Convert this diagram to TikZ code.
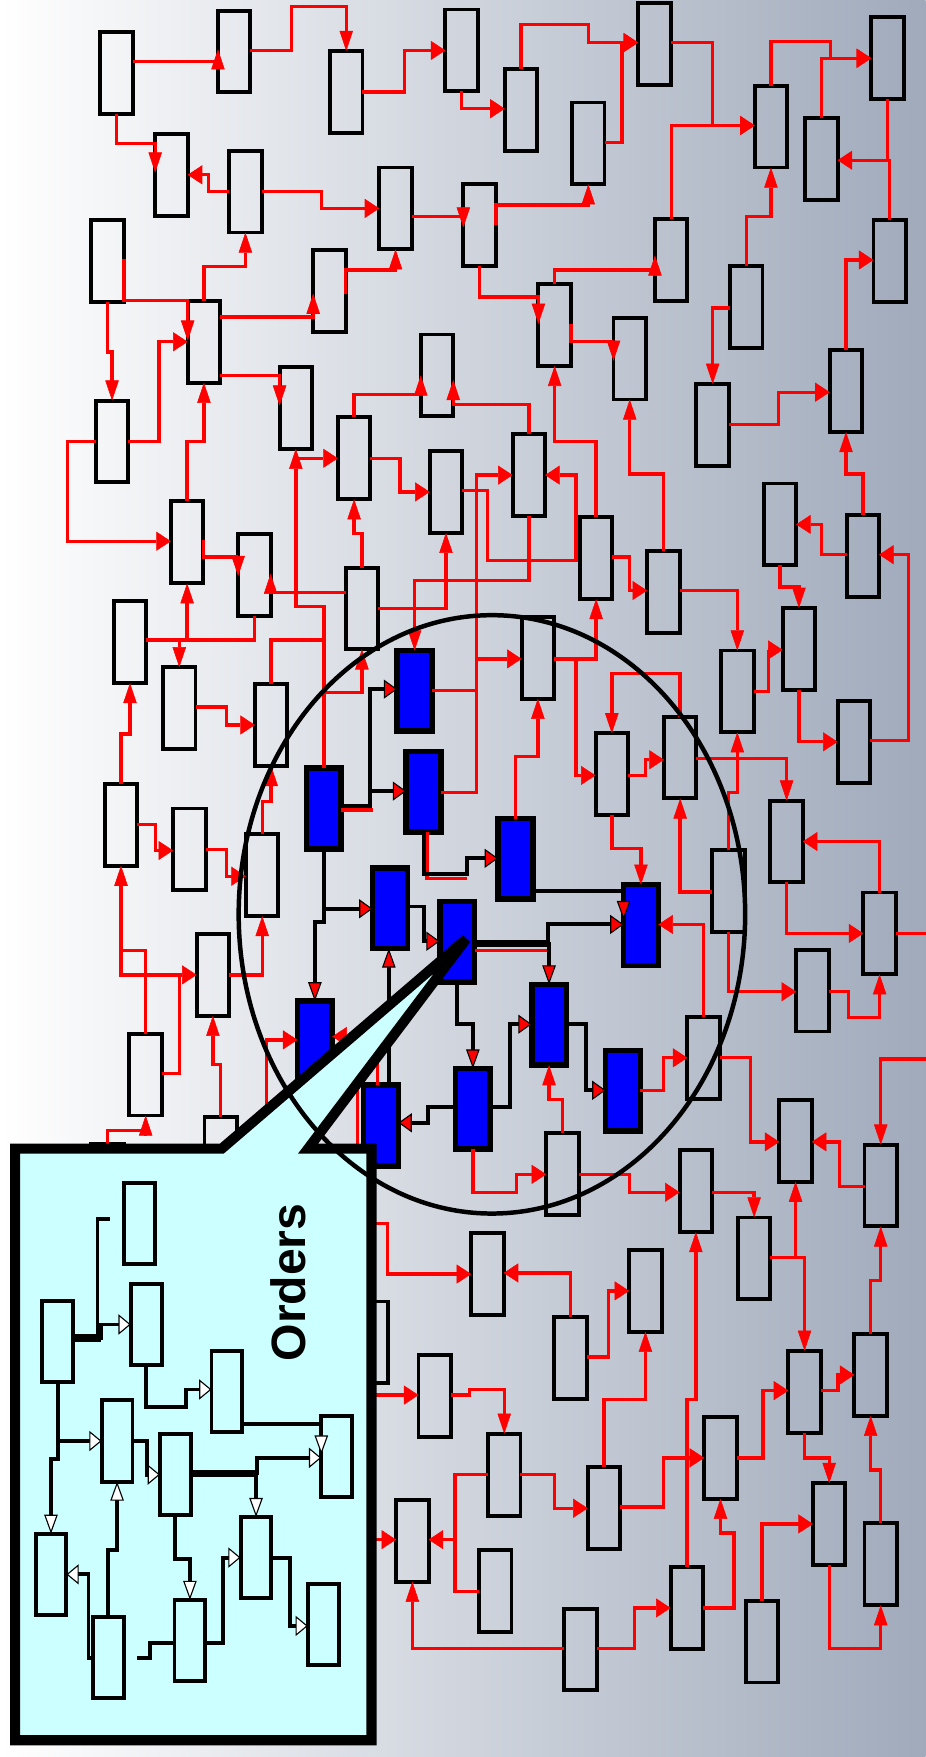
\documentclass[tikz,border=0pt]{standalone}
\usepackage{fontspec}
\newfontfamily\lsans{Liberation Sans}
\usetikzlibrary{arrows.meta}
\definecolor{bgR}{RGB}{160,170,187}
\definecolor{bgM}{RGB}{217,220,228}
\definecolor{myblue}{RGB}{0,0,255}
\definecolor{mycyan}{RGB}{204,255,255}
\tikzset{
 gnode/.style={draw=black,line width=3.5pt,minimum width=29pt,minimum height=73pt,inner sep=0pt,outer sep=0pt},
 bnode/.style={draw=black,fill=myblue,line width=5pt,minimum width=31pt,minimum height=72pt,inner sep=0pt,outer sep=0pt},
 cnode/.style={draw=black,fill=mycyan,line width=3.5pt,minimum width=27.5pt,minimum height=72.5pt,inner sep=0pt,outer sep=0pt},
 redl/.style={draw=red,line width=3pt},
 redh/.style={redl,-{Triangle[length=13pt,width=17pt,line width=0.5pt]}},
 redv/.style={redl,-{Triangle[length=18pt,width=12pt,line width=0.5pt]}},
 blkl/.style={draw=black,line width=3.5pt},
 blkh/.style={blkl,-{Triangle[length=12pt,width=17pt,fill=red,line width=1pt]}},
 blkv/.style={blkl,-{Triangle[length=17pt,width=12pt,fill=red,line width=1pt]}},
 cline/.style={draw=black,line width=3.5pt},
 calh/.style={cline,-{Triangle[length=11pt,width=18pt,fill=white,line width=1pt]}},
 calv/.style={cline,-{Triangle[length=17pt,width=12pt,fill=white,line width=1pt]}},
}
\begin{document}
\begin{tikzpicture}[x=1pt,y=-1pt]
\useasboundingbox (0,0) rectangle (826,1568);
\shade[left color=white,middle color=bgM,right color=bgR] (0,0) rectangle (826,1568);
% gray nodes
\node[gnode] (n1) at (104,65) {};
\node[gnode] (n2) at (209,46) {};
\node[gnode] (n3) at (309,82) {};
\node[gnode] (n4) at (412,45) {};
\node[gnode] (n5) at (465,98) {};
\node[gnode] (n6) at (584,39) {};
\node[gnode] (n7) at (525,128) {};
\node[gnode] (n8) at (688,113) {};
\node[gnode] (n9) at (792,52) {};
\node[gnode] (n10) at (733,142) {};
\node[gnode] (n11) at (153,156) {};
\node[gnode] (n12) at (219,171) {};
\node[gnode] (n13) at (353,186) {};
\node[gnode] (n14) at (428,201) {};
\node[gnode] (n15) at (96,233) {};
\node[gnode] (n16) at (294,260) {};
\node[gnode] (n17) at (599,232) {};
\node[gnode] (n18) at (794,233) {};
\node[gnode] (n19) at (666,274) {};
\node[gnode] (n20) at (182,305) {};
\node[gnode] (n21) at (495,290) {};
\node[gnode] (n22) at (562,320) {};
\node[gnode] (n23) at (390,335) {};
\node[gnode] (n24) at (264,364) {};
\node[gnode] (n25) at (100,394) {};
\node[gnode] (n26) at (636,379) {};
\node[gnode] (n27) at (755,349) {};
\node[gnode] (n28) at (316,409) {};
\node[gnode] (n29) at (398,439) {};
\node[gnode] (n30) at (472,424) {};
\node[gnode] (n31) at (696,468) {};
\node[gnode] (n32) at (167,484) {};
\node[gnode] (n33) at (532,498) {};
\node[gnode] (n34) at (770,496) {};
\node[gnode] (n35) at (227,513) {};
\node[gnode] (n36) at (592,528) {};
\node[gnode] (n37) at (323,543) {};
\node[gnode] (n38) at (116,573) {};
\node[gnode] (n39) at (480,587) {};
\node[gnode] (n40) at (713,579) {};
\node[gnode] (n41) at (658,617) {};
\node[gnode] (n42) at (160,632) {};
\node[gnode] (n43) at (242,647) {};
\node[gnode] (n44) at (607,676) {};
\node[gnode] (n45) at (546,691) {};
\node[gnode] (n46) at (762,662) {};
\node[gnode] (n47) at (108,736) {};
\node[gnode] (n48) at (169,758) {};
\node[gnode] (n49) at (234,781) {};
\node[gnode] (n50) at (702,751) {};
\node[gnode] (n51) at (650,795) {};
\node[gnode] (n52) at (785,833) {};
\node[gnode] (n53) at (190,870) {};
\node[gnode] (n54) at (725,884) {};
\node[gnode] (n55) at (130,959) {};
\node[gnode] (n56) at (628,944) {};
\node[gnode] (n57) at (197,1033) {};
\node[gnode] (n58) at (710,1018) {};
\node[gnode] (n59) at (502,1048) {};
\node[gnode] (n60) at (621,1063) {};
\node[gnode] (n61) at (786,1058) {};
\node[gnode] (n62) at (673,1123) {};
\node[gnode] (n63) at (435,1137) {};
\node[gnode] (n64) at (576,1152) {};
\node[gnode] (n65) at (509,1212) {};
\node[gnode] (n66) at (332,1198) {};
\node[gnode] (n67) at (388,1246) {};
\node[gnode] (n68) at (777,1227) {};
\node[gnode] (n69) at (718,1242) {};
\node[gnode] (n70) at (450,1316) {};
\node[gnode] (n71) at (643,1301) {};
\node[gnode] (n72) at (539,1346) {};
\node[gnode] (n73) at (740,1360) {};
\node[gnode] (n74) at (368,1375) {};
\node[gnode] (n75) at (442,1420) {};
\node[gnode] (n76) at (786,1396) {};
\node[gnode] (n77) at (613,1435) {};
\node[gnode] (n78) at (518,1472) {};
\node[gnode] (n79) at (680,1465) {};
\node[gnode] (n80) at (96,1057) {};
% blue nodes
\node[bnode] (B1) at (370,616.5) {};
\node[bnode] (B2) at (378,706.5) {};
\node[bnode] (B3) at (289,721.5) {};
\node[bnode] (B4) at (460,766.5) {};
\node[bnode] (B5) at (348,810.5) {};
\node[bnode] (B6) at (408,840.5) {};
\node[bnode] (B7) at (572,825.5) {};
\node[bnode] (B8) at (490,914.5) {};
\node[bnode] (B9) at (281,929.5) {};
\node[bnode] (B10) at (556,973.5) {};
\node[bnode] (B11) at (422,989.5) {};
\node[bnode] (B12) at (340,1004.5) {};
% free ends
\coordinate (f1) at (238,1045);
\coordinate (f2) at (335,925);
\coordinate (f3) at (826,833);
\coordinate (f4) at (826,945);
\coordinate (f5) at (322,1092);
\coordinate (f6) at (322,1245);
\coordinate (f7) at (322,1374);
\coordinate (f8) at (98,1088);
\coordinate (f9) at (122,1480);
\coordinate (f10) at (337,930);
\coordinate (f11) at (319,950);
\coordinate (f12) at (319,1035);
% red connectors
\draw[redv] (n1.east|-0,55) -| (n2.west|-0,44);
\draw[redv] (n2.east|-0,45) -| (260,6) -| (n3.north);
\draw[redh] (n3.east|-0,82) -| (361,45) -- (n4.west|-0,45);
\draw[redv] (n1.south) |- (n11.west|-0,128) -- (n11.west|-0,154);
\draw[redh] (n12.west|-0,171) -| (186,156) -- (n11.east|-0,156);
\draw[redh] (n12.east|-0,171) -| (287,186) -- (n13.west|-0,186);
\draw[redv] (n13.east|-0,193) -| (n14.west|-0,203);
\draw[redv] (n15.east|-0,231) |- (n20.west|-0,268) -- (n20.west|-0,304);
\draw[redv] (n15.south) |- (n25.north|-0,314) -- (n25.north);
\draw[redv] (n20.north) |- (n12.south|-0,238) -- (n12.south);
\draw[redv] (n20.east|-0,283) -| (n16.west|-0,262);
\draw[redv] (n16.east|-0,262) |- (n13.south|-0,241) -- (n13.south);
\draw[redv] (n20.east|-0,335) -| (n24.west|-0,362);
\draw[redh] (n25.east|-0,394) -| (142,305) -- (n20.west|-0,305);
\draw[redh] (n25.west|-0,394) -| (60,483) -- (n32.west|-0,483);
\draw[redv] (n32.north) |- (n20.south|-0,394) -- (n20.south);
\draw[redv] (B3.north) |- (n24.south|-0,541) -- (n24.south);
\draw[redh] (n24.south|-0,409) -- (n28.west|-0,409);
\draw[redv] (n28.north) |- (n23.west|-0,352) -- (n23.west|-0,335);
\draw[redv] (n30.north) |- (n23.east|-0,361) -- (n23.east|-0,339);
\draw[redh] (n28.east|-0,409) -| (357,439) -- (n29.west|-0,439);
\draw[redv] (n37.east|-0,543) -| (n29.south);
\draw[redv] (n30.south) |- (B1.north|-0,518) -- (B1.north);
\draw[redh] (n29.east|-0,438) -| (435,500) -| (514,424) -- (n30.east|-0,424);
\draw[redh] (B2.east|-0,707) -| (425,424) -- (n30.west|-0,424);
\draw[redh] (B1.east|-0,616) -| (425,588) -- (n39.west|-0,588);
\draw[redv] (n33.north) |- (n21.south|-0,394) -- (n21.south);
\draw[redv] (n37.north) |- (n28.south|-0,476) -- (n28.south);
\draw[redv] (n32.east|-0,482) |- (n35.west|-0,497) -- (n35.west|-0,514);
\draw[redv] (n37.west|-0,529) -| (n35.east|-0,512);
\draw[redv] (n35.south) |- (n32.south|-0,571) -- (n32.south);
\draw[redv] (n38.east|-0,571) -| (n42.north);
\draw[redl] (n42.north|-0,571) -- (n32.south|-0,571);
\draw[redl] (n43.north) |- (B3.north|-0,571);
\draw[redh] (n42.east|-0,631) -| (202,647) -- (n43.west|-0,647);
\draw[redv] (B3.north) |- (n37.south|-0,618) -- (n37.south);
\draw[redv] (n47.north) |- (n38.south|-0,655) -- (n38.south);
\draw[redh] (n47.east|-0,736) -| (139,759) -- (n48.west|-0,759);
\draw[redh] (n48.east|-0,758) -| (202,782) -- (n49.west|-0,782);
\draw[redv] (n49.north) |- (n43.south|-0,715) -- (n43.south);
\draw[redv] (n55.north) |- (n47.south|-0,848) -- (n47.south);
\draw[redh] (n55.east|-0,958) -| (160,870) -- (n53.west|-0,870);
\draw[redl] (n47.south|-0,848) |- (160,870);
\draw[redv] (n53.east|-0,870) -| (n49.south);
\draw[redv] (n57.north) |- (n53.south|-0,950) -- (n53.south);
\draw[redh] (f1) |- (B9.west|-0,928);
\draw[redv] (n80.north) |- (n55.south|-0,1009) -- (n55.south);
\draw[redh] (f2) -- (B9.east|-0,925);
\draw[redh] (n4.south) |- (n5.west|-0,97);
\draw[redh] (n5.north) |- (525,22) |- (n6.west|-0,38);
\draw[redh] (n7.east|-0,127) -| (555,38) -- (n6.west|-0,38);
\draw[redh] (n6.east|-0,38) -| (636,112) -- (n8.west|-0,112);
\draw[redh] (n17.north) |- (n8.west|-0,112);
\draw[redh] (n8.north) |- (741,37) |- (n9.west|-0,52);
\draw[redh] (n10.north) |- (n9.west|-0,52);
\draw[redh] (n18.north) |- (n10.east|-0,143);
\draw[redl] (n9.south) |- (n18.north|-0,143);
\draw[redv] (n14.east|-0,201) |- (n7.south|-0,183) -- (n7.south);
\draw[redv] (n19.north) |- (n8.south|-0,193) -- (n8.south);
\draw[redv] (n19.west|-0,275) -| (n26.north);
\draw[redh] (n26.east|-0,379) -| (695,350) -- (n27.west|-0,350);
\draw[redh] (n27.north) |- (n18.west|-0,232);
\draw[redv] (n34.north) |- (n27.south|-0,423) -- (n27.south);
\draw[redh] (n34.west|-0,495) -| (733,468) -- (n31.east|-0,468);
\draw[redh] (n46.east|-0,661) -| (811,495) -- (n34.east|-0,495);
\draw[redv] (n31.south) |- (n40.north|-0,524) -- (n40.north);
\draw[redv] (n36.north) |- (n22.south|-0,423) -- (n22.south);
\draw[redv] (n21.north) |- (n17.west|-0,241) -- (n17.west|-0,228);
\draw[redv] (n14.south) |- (n21.west|-0,265) -- (n21.west|-0,289);
\draw[redv] (n21.east|-0,289) |- (n22.west|-0,305) -- (n22.west|-0,322);
\draw[redv] (n39.east|-0,588) -| (n33.south);
\draw[redh] (n39.east|-0,588) -| (514,692) -- (n45.west|-0,692);
\draw[redh] (n33.east|-0,497) -| (562,527) -- (n36.west|-0,527);
\draw[redv] (n36.east|-0,527) -| (n41.north);
\draw[redh] (n41.east|-0,617) -| (686,580) -- (n40.west|-0,580);
\draw[redh] (n40.south) |- (n46.west|-0,662);
\draw[redv] (n44.north) |- (n45.north|-0,601) -- (n45.north);
\draw[redh] (n45.east|-0,692) -| (576,678) -- (n44.west|-0,678);
\draw[redv] (n44.east|-0,677) -| (n50.north);
\draw[redv] (n51.north) |- (n41.south|-0,707) -- (n41.south);
\draw[redv] (n51.west|-0,796) -| (n44.south);
\draw[redh] (n52.north) |- (n50.east|-0,751);
\draw[redh] (n50.south) |- (n52.west|-0,833);
\draw[redl] (n52.east|-0,833) -- (f3);
\draw[redh] (n51.south) |- (n54.west|-0,885);
\draw[redv] (n54.east|-0,885) -| (757,908) -| (n52.south);
\draw[redh] (n56.east|-0,944) -| (670,1019) -- (n58.west|-0,1019);
\draw[redv] (f4) -| (n61.north);
\draw[redh] (n61.west|-0,1059) -| (749,1019) -- (n58.east|-0,1019);
\draw[redh] (B11.south) |- (461,1064) |- (n59.west|-0,1048);
\draw[redh] (n59.east|-0,1048) -| (562,1064) -- (n60.west|-0,1064);
\draw[redv] (n60.east|-0,1064) -| (n62.north);
\draw[redv] (n62.east|-0,1122) -| (n58.south);
\draw[redv] (n62.east|-0,1122) -| (n69.north);
\draw[redv] (n77.north) |- (n60.south|-0,1249) -- (n60.south);
\draw[redh] (n65.north) |- (n63.east|-0,1136);
\draw[redh] (f5) -| (346,1137) -- (n63.west|-0,1137);
\draw[redh] (n65.east|-0,1211) -| (543,1152) -- (n64.west|-0,1152);
\draw[redv] (n72.north) |- (n64.south|-0,1249) -- (n64.south);
\draw[redv] (n67.east|-0,1245) -| (419,1240) -| (n70.north);
\draw[redh] (f6) -- (n67.west|-0,1245);
\draw[redh] (n70.east|-0,1316) -| (495,1346) -- (n72.west|-0,1346);
\draw[redh] (n70.west|-0,1316) -| (406,1374) -- (n74.east|-0,1374);
\draw[redl] (n75.west|-0,1420) -| (406,1374);
\draw[redh] (f7) -- (n74.west|-0,1374);
\draw[redv] (n78.west|-0,1471) -| (n74.south);
\draw[redh] (n78.east|-0,1471) -| (566,1435) -- (n77.west|-0,1435);
\draw[redv] (n77.east|-0,1435) -| (655,1368) -| (n71.south);
\draw[redh] (n72.east|-0,1345) -| (592,1301) -- (n71.west|-0,1301);
\draw[redh] (n71.east|-0,1301) -| (681,1241) -- (n69.west|-0,1241);
\draw[redh] (n69.east|-0,1241) -| (748,1227) -- (n68.west|-0,1227);
\draw[redv] (n69.south) |- (n73.north|-0,1301) -- (n73.north);
\draw[redv] (n68.north) |- (n61.south|-0,1143) -- (n61.south);
\draw[redv] (n76.north) |- (n68.south|-0,1312) -- (n68.south);
\draw[redv] (n73.south) |- (n76.south|-0,1471) -- (n76.south);
\draw[redh] (n79.north) |- (n73.west|-0,1360);
\draw[redv] (n59.north) |- (B8.south|-0,981) -- (B8.south);
\draw[redh] (B10.east|-0,973) -| (592,944) -- (n56.west|-0,944);
\draw[redh] (n56.north) |- (B7.east|-0,825);
\draw[redv] (n45.south) |- (B7.north|-0,757) -- (B7.north);
\draw[redv] (B4.north) |- (n39.south|-0,675) -- (n39.south);
% red traces under the black connectors
\draw[redl] (B3.east|-0,723) -- (333,723);
\draw[redl] (B2.south -| 381,0) |- (417,784);
\draw[redl] (B6.east|-0,848) -- (489,848);
\draw[redl] (B12.north -| 337,0) -- (f10);
\draw[redl] (f11) -- (f12);
% black connectors
\draw[line width=7pt] (B6.east|-0,842) -- (490,842);
\draw[blkh] (B3.east|-0,719) -| (330,615) -- (B1.west|-0,615);
\draw[blkh] (B3.east|-0,719) -| (330,706) -- (B2.west|-0,706);
\draw[blkh] (B3.south) |- (B5.west|-0,811);
\draw[blkv] (B3.south) |- (B9.north|-0,823) -- (B9.north);
\draw[blkh] (B2.south) |- (417,780) |- (B4.west|-0,766);
\draw[blkh] (B5.east|-0,809) -| (378,840) -- (B6.west|-0,840);
\draw[blkv] (B12.north -| 347,0) -- (B5.south -| 347,0);
\draw[blkh] (B11.west|-0,988) -| (382,1002) -- (B12.east|-0,1002);
\draw[blkh] (B6.east|-0,842) -| (489,825) -- (B7.west|-0,825);
\draw[blkv] (B6.east|-0,842) -| (B8.north);
\draw[blkv] (B4.east|-0,795) -| (B7.west|-0,821);
\draw[blkh] (B11.east|-0,988) -| (455,914) -- (B8.west|-0,914);
\draw[blkh] (B8.east|-0,914) -| (523,973) -- (B10.west|-0,973);
\draw[blkv] (B6.south) |- (B11.north|-0,914) -- (B11.north);
% callout
\draw[line width=9pt,fill=mycyan,miter limit=3] (13.5,1025) -- (198,1025) -- (416,838) -- (275,1025) -- (331.5,1025) -- (331.5,1553) -- (13.5,1553) -- cycle;
\node[rotate=90,inner sep=0pt,font=\lsans\bfseries\fontsize{43pt}{43pt}\selectfont] (ord) at (257.5,1144.5) {Orders};
\node[cnode] (c1) at (124.5,1092) {};
\node[cnode] (c2) at (130.5,1182) {};
\node[cnode] (c3) at (51.5,1197) {};
\node[cnode] (c4) at (202.5,1242) {};
\node[cnode] (c5) at (104.5,1286) {};
\node[cnode] (c6) at (156.5,1316) {};
\node[cnode] (c7) at (300.5,1300) {};
\node[cnode] (c8) at (45.5,1405) {};
\node[cnode] (c9) at (228.5,1390) {};
\node[cnode] (c10) at (96.5,1479) {};
\node[cnode] (c11) at (169.5,1464) {};
\node[cnode] (c12) at (288.5,1450) {};
\draw[line width=6.5pt] (c3.east|-0,1194) -- (90,1194);
\draw[calh] (c3.east|-0,1194) -| (90,1182) -- (c2.west|-0,1182);
\draw[cline] (c3.east|-0,1194) -| (87,1088) -- (f8);
\draw[calh] (c2.south) |- (166,1256) |- (c4.west|-0,1240);
\draw[calv] (c4.east|-0,1271) -| (c7.west|-0,1298);
\draw[line width=6.5pt] (c6.east|-0,1315) -- (229,1315);
\draw[calh] (c6.east|-0,1315) -| (229,1301) -- (c7.west|-0,1301);
\draw[calv] (c6.east|-0,1315) -| (c9.north);
\draw[calh] (c3.south) |- (c5.west|-0,1286);
\draw[calv] (c3.south) |- (c8.north|-0,1302) -- (c8.north);
\draw[calh] (c5.east|-0,1286) -| (131,1316) -- (c6.west|-0,1316);
\draw[calv] (c10.north) |- (c5.south|-0,1383) -- (c5.south);
\draw[calh] (c10.west|-0,1480) -| (79,1405) -- (c8.east|-0,1405);
\draw[calv] (c6.south) |- (c11.north|-0,1391) -- (c11.north);
\draw[cline] (c11.west|-0,1466) -| (134,1480) -- (f9);
\draw[calh] (c11.east|-0,1466) -| (199,1390) -- (c9.west|-0,1390);
\draw[calh] (c9.east|-0,1390) -| (259,1451) -- (c12.west|-0,1451);
% circle
\draw[line width=4pt] (439,816) ellipse [x radius=226pt,y radius=267pt];
\end{tikzpicture}
\end{document}
